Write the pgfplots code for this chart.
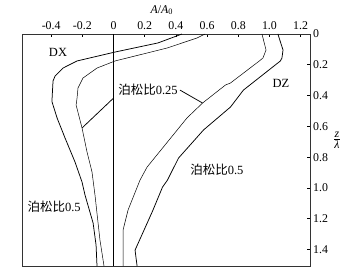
\documentclass[border=0pt]{standalone}
\usepackage{pgfplots}
\pgfplotsset{compat=1.18}
\usepackage{fontspec}
\setmainfont{Liberation Serif}
\newfontfamily\cjk{Noto Sans CJK SC}
\begin{document}
\begin{tikzpicture}[x=1pt,y=1pt]
\useasboundingbox (-17.6,-4.8) rectangle (268,212.8);
\begin{axis}[at={(0,0)}, anchor=south west, scale only axis,
  width=230.4pt, height=185.6pt,
  xmin=-0.587, xmax=1.26, ymin=0, ymax=1.506, y dir=reverse,
  xtick={-0.4,-0.2,0,0.2,0.4,0.6,0.8,1.0,1.2},
  xticklabels={-0.4,-0.2,0,0.2,0.4,0.6,0.8,1.0,1.2},
  ytick={0,0.2,0.4,0.6,0.8,1.0,1.2,1.4},
  yticklabels={0,0.2,0.4,0.6,0.8,1.0,1.2,1.4},
  xtick pos=right, xticklabel pos=right,
  ytick pos=right, yticklabel pos=right,
  tick align=inside, major tick length=2.5pt,
  tick style={black, line width=0.6pt},
  ticklabel style={font=\fontsize{9.5}{11}\selectfont},
  yticklabel style={anchor=west, xshift=-1pt},
  axis line style={line width=0.7pt, black!80},
  clip=false,
  cycle list={{black, line width=0.6pt, mark=none}},
]
% zero line
\addplot coordinates {(0,0) (0,1.506)};
% DX, Poisson 0.5 (outer)
\addplot coordinates {(0.439,0) (0.285,0.058) (0.010,0.117) (-0.234,0.175) (-0.324,0.221) (-0.375,0.273) (-0.388,0.305) (-0.394,0.416) (-0.394,0.442) (-0.362,0.545) (-0.311,0.675) (-0.247,0.831) (-0.202,0.961) (-0.183,1.045) (-0.131,1.227) (-0.112,1.37) (-0.106,1.506)};
% DX, Poisson 0.25 (inner)
\addplot coordinates {(0.587,0) (0.535,0.026) (0.343,0.091) (0.010,0.175) (-0.106,0.221) (-0.196,0.286) (-0.228,0.351) (-0.234,0.416) (-0.240,0.461) (-0.202,0.610) (-0.170,0.766) (-0.138,0.896) (-0.119,1.045) (-0.087,1.338) (-0.061,1.506)};
% DZ, Poisson 0.25 (inner)
\addplot coordinates {(0.952,0) (0.978,0.104) (0.958,0.156) (0.935,0.175) (0.75,0.318) (0.718,0.331) (0.571,0.448) (0.471,0.545) (0.215,0.864) (0.170,0.948) (0.093,1.143) (0.061,1.273) (0.061,1.506)};
% DZ, Poisson 0.5 (outer)
\addplot coordinates {(1.054,0) (1.087,0.104) (1.080,0.156) (1.07,0.175) (0.833,0.364) (0.75,0.474) (0.577,0.623) (0.417,0.805) (0.346,0.948) (0.314,0.994) (0.25,1.15) (0.138,1.403) (0.151,1.506)};
% leader lines
\draw[line width=0.6pt] (axis cs:0.426,0.364) -- (axis cs:0.571,0.448);
\draw[line width=0.6pt] (axis cs:0,0.416) -- (axis cs:-0.202,0.610);
% labels
\node[font=\fontsize{10}{12}\selectfont] at (axis cs:-0.356,0.117) {DX};
\node[font=\fontsize{10}{12}\selectfont] at (axis cs:1.074,0.318) {DZ};
\node[font=\fontsize{10}{12}\selectfont, fill=white, inner sep=0.5pt] at (axis cs:0.221,0.364) {{\cjk 泊松比}0.25};
\node[font=\fontsize{10}{12}\selectfont] at (axis cs:-0.381,1.123) {{\cjk 泊松比}0.5};
\node[font=\fontsize{10}{12}\selectfont] at (axis cs:0.663,0.883) {{\cjk 泊松比}0.5};
\node[font=\fontsize{9.5}{11}\selectfont] at (axis cs:0.31,-0.156) {\textit{A}/\textit{A}\textsubscript{0}};
\node[font=\fontsize{9.5}{11}\selectfont] at (axis cs:1.433,0.688) {$\frac{\textit{z}}{\textit{λ}}$};
\end{axis}
\end{tikzpicture}
\end{document}
